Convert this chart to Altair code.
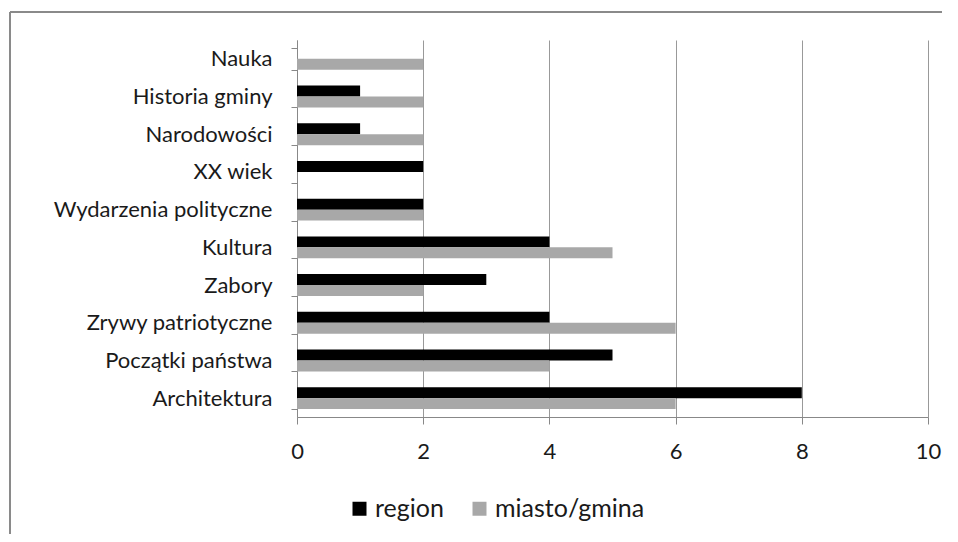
import altair as alt
import pandas as pd

categories = ["Nauka", "Historia gminy", "Narodowości\u00a0", "XX wiek", "Wydarzenia polityczne",
              "Kultura", "Zabory", "Zrywy patriotyczne", "Początki państwa\u00a0", "Architektura"]
region = [0, 1, 1, 2, 2, 4, 3, 4, 5, 8]
miasto = [2, 2, 2, 0, 2, 5, 2, 6, 4, 6]
series = ["region", "miasto/gmina"]
colors = ["#000000", "#a8a8a8"]
x_ticks = [0, 2, 4, 6, 8, 10]

rows = []
for c, r, m in zip(categories, region, miasto):
    rows.append({"kat": c, "seria": series[0], "v": r})
    rows.append({"kat": c, "seria": series[1], "v": m})
df = pd.DataFrame(rows)

FONT = "Lato"
FS = 22

bars = alt.Chart(df).mark_bar().encode(
    y=alt.Y("kat:N", sort=categories, title=None,
            scale=alt.Scale(paddingInner=0.42, paddingOuter=0.21),
            axis=alt.Axis(tickBand="extent", labelFontSize=FS, labelPadding=19, tickSize=6,
                          domainColor="#888888", tickColor="#888888", labelColor="#1a1a1a",
                          labelFont=FONT, grid=False, labelLimit=400)),
    yOffset=alt.YOffset("seria:N", sort=series, scale=alt.Scale(paddingInner=0, paddingOuter=0)),
    x=alt.X("v:Q", title=None, scale=alt.Scale(domain=[0, 10], nice=False),
            axis=alt.Axis(values=x_ticks, grid=True, gridColor="#999999", labelFontSize=FS,
                          labelPadding=17, tickSize=7, domainColor="#888888", tickColor="#888888",
                          labelColor="#1a1a1a", labelFont=FONT, labelFlush=False)),
    color=alt.Color("seria:N", sort=series,
                    scale=alt.Scale(domain=series, range=colors),
                    legend=alt.Legend(title=None, orient="none", legendX=50, legendY=456,
                                      direction="horizontal", symbolType="square", symbolSize=196,
                                      symbolStrokeWidth=0, labelFontSize=25, labelFont=FONT,
                                      labelColor="#1a1a1a", columnPadding=23, labelOffset=3,
                                      padding=0)),
)

frame = alt.Data(values=[{"a": 1}])
top_line = alt.Chart(frame).mark_rule(stroke="#8a8a8a", strokeWidth=2).encode(
    x=alt.value(-287), x2=alt.value(700), y=alt.value(-28)
)
left_line = alt.Chart(frame).mark_rule(stroke="#8a8a8a", strokeWidth=2).encode(
    x=alt.value(-287), y=alt.value(-28), y2=alt.value(560)
)

chart = alt.layer(top_line, left_line, bars).properties(
    width=631, height=377,
    padding={"left": 289, "top": 32, "right": 14, "bottom": 117},
    autosize=alt.AutoSizeParams(type="none"),
    background="white",
).configure_view(stroke=None)

chart.save("out.html", embed_options={"renderer": "svg", "actions": False})
